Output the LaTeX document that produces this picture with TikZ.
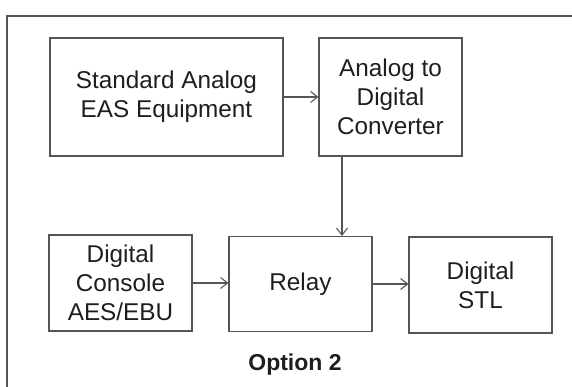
\documentclass[tikz,border=0pt]{standalone}
\usepackage{fontspec}
\setmainfont{Liberation Sans}
\usetikzlibrary{arrows.meta}
\definecolor{linec}{HTML}{555555}
\definecolor{textc}{HTML}{1E1E1E}
\begin{document}
\begin{tikzpicture}[x=1pt,y=-1pt,
  blk/.style={draw=linec,line width=1.1pt,rectangle,align=center,text=textc,
    font=\fontsize{24.3}{29}\selectfont,inner sep=0pt},
  arr/.style={draw=linec,line width=1.1pt,-{Straight Barb[length=7pt,width=11pt,line width=1.1pt]}}]
\useasboundingbox (0,0) rectangle (572,387);
\draw[linec,line width=1.2pt] (7,390) -- (7,16) -- (575,16);
\node[blk,minimum width=233pt,minimum height=118pt] (std) at (166.5,97) {Standard Analog\\EAS Equipment};
\node[blk,minimum width=143pt,minimum height=118pt] (adc) at (390.5,97) {Analog to\\Digital\\Converter};
\node[blk,minimum width=143pt,minimum height=96pt] (dc) at (120.5,283) {Digital\\Console\\AES/EBU};
\node[blk,minimum width=143pt,minimum height=95pt] (relay) at (300.5,284) {Relay};
\node[blk,minimum width=143pt,minimum height=96pt] (stl) at (480.5,285) {Digital\\STL};
\node[text=textc,font=\fontsize{23}{26}\selectfont\bfseries] (opt) at (295,365) {Option 2};
\coordinate (vx) at (342,0);
\draw[arr] (std.east |- 0,97) -- (adc.west |- 0,97);
\draw[arr] (adc.south -| vx) -- (relay.north -| vx);
\draw[arr] (dc.east |- 0,283) -- (relay.west |- 0,283);
\draw[arr] (relay.east |- 0,284) -- (stl.west |- 0,284);
\end{tikzpicture}
\end{document}
